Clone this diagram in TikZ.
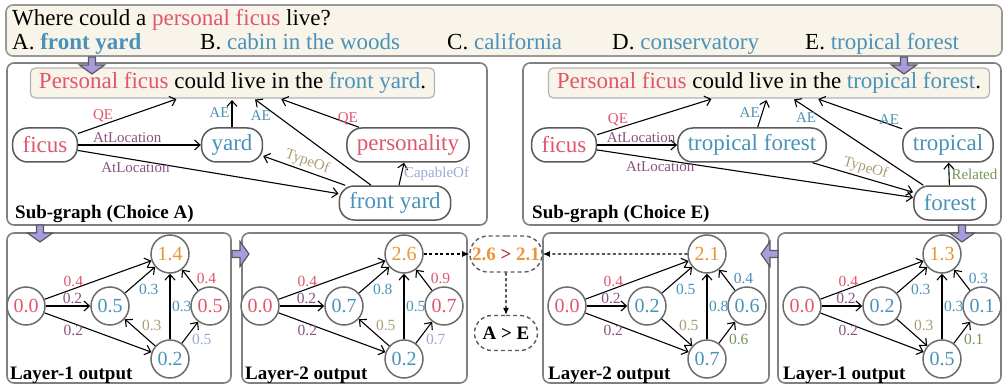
\documentclass[tikz,border=0pt]{standalone}
\usepackage{fontspec}
\setmainfont{Liberation Serif}
\usepackage{tikz}
\usetikzlibrary{arrows.meta, shapes.misc, calc, positioning}
\definecolor{qred}{RGB}{224,86,108}
\definecolor{ablue}{RGB}{74,146,184}
\definecolor{relpurple}{RGB}{138,82,128}
\definecolor{reltan}{RGB}{170,158,118}
\definecolor{rellav}{RGB}{158,168,212}
\definecolor{relgreen}{RGB}{118,150,88}
\definecolor{scoreorange}{RGB}{232,150,56}
\definecolor{cmpred}{RGB}{172,48,52}
\definecolor{boxbeige}{RGB}{248,244,233}
\definecolor{framegray}{RGB}{128,128,128}
\definecolor{nodegray}{RGB}{90,90,90}
\definecolor{flowlav}{RGB}{168,156,222}

\tikzset{
  bigtxt/.style={font=\fontsize{23}{26}\selectfont},
  reltxt/.style={font=\fontsize{15}{17}\selectfont, inner sep=2pt},
  wtxt/.style={font=\fontsize{15.5}{17}\selectfont, inner sep=1.5pt},
  tagtxt/.style={font=\fontsize{19}{21}\selectfont\bfseries, inner sep=0pt, anchor=base west},
  panel/.style={draw=framegray, line width=1.6pt, rounded corners=7pt, fill=white, inner sep=0pt},
  qbox/.style={draw=framegray!80, line width=1.6pt, rounded corners=7pt, fill=boxbeige, inner sep=0pt},
  sentbox/.style={draw=framegray!60, line width=1.2pt, rounded corners=5pt, fill=boxbeige, bigtxt,
    minimum height=30pt, inner xsep=8.5pt, inner ysep=0pt},
  concept/.style={draw=nodegray, line width=1.5pt, rounded corners=15pt, fill=white, bigtxt,
    minimum height=34pt, inner xsep=10pt, inner ysep=0pt},
  score/.style={circle, draw=framegray!85!black, line width=1.5pt, fill=white, minimum size=38pt,
    inner sep=0pt, font=\fontsize{20}{22}\selectfont},
  cmpbox/.style={rounded rectangle, draw=nodegray, line width=1.4pt, dash pattern=on 4pt off 3pt,
    minimum height=36pt, inner ysep=0pt, font=\fontsize{19}{21}\selectfont\bfseries},
  link/.style={-{Straight Barb[length=5.5pt,width=10pt]}, line width=1.1pt},
  cmplink/.style={-{Latex[length=7pt,width=6pt]}, line width=1.1pt, dash pattern=on 3pt off 2.5pt},
  flowarr/.style={fill=flowlav, draw=nodegray, line width=1.2pt, line join=miter},
  optline/.style={bigtxt, anchor=base west, inner sep=0pt}
}

% block arrow between the stages: #1 = base point, #2 = angle
\newcommand{\flowarrow}[2]{%
  \draw[flowarr, shift={#1}, rotate=#2] (0,-3.5) -- (8,-3.5) -- (8,-12.5) -- (17,0)
    -- (8,12.5) -- (8,3.5) -- (0,3.5) -- cycle;}

\begin{document}
\begin{tikzpicture}[x=1pt, y=-1pt]
\useasboundingbox (0,0) rectangle (1004,385);

% question and choices
\node[qbox, minimum width=996pt, minimum height=51pt] (quest) at (504,30.5) {};
\node[optline] (qline) at (12,26) {Where could a \textcolor{qred}{personal ficus} live?};
\node[optline] (optA) at (12,50) {A. \textcolor{ablue}{\textbf{front yard}}};
\node[optline] (optB) at (200,50) {B. \textcolor{ablue}{cabin in the woods}};
\node[optline] (optC) at (447,50) {C. \textcolor{ablue}{california}};
\node[optline] (optD) at (612,50) {D. \textcolor{ablue}{conservatory}};
\node[optline] (optE) at (805,50) {E. \textcolor{ablue}{tropical forest}};

% frames
\node[panel, minimum width=480pt, minimum height=162pt] (subA) at (247,144) {};
\node[panel, minimum width=478pt, minimum height=162pt] (subE) at (762,144) {};
\node[panel, minimum width=224pt, minimum height=150pt] (lay1A) at (119,308) {};
\node[panel, minimum width=225pt, minimum height=150pt] (lay2A) at (354.5,308) {};
\node[panel, minimum width=226pt, minimum height=150pt] (lay2E) at (656,308) {};
\node[panel, minimum width=223pt, minimum height=150pt] (lay1E) at (889.5,308) {};

\node[tagtxt] (tagA) at (15,218) {Sub-graph (Choice A)};
\node[tagtxt] (tagE) at (532,218) {Sub-graph (Choice E)};
\node[tagtxt] (tag1A) at (10,379) {Layer-1 output};
\node[tagtxt] (tag2A) at (245,379) {Layer-2 output};
\node[tagtxt] (tag2E) at (548,379) {Layer-2 output};
\node[tagtxt] (tag1E) at (783,379) {Layer-1 output};

% sub-graph for choice A
\node[sentbox] (sentA) at (232.5,83) {\textcolor{qred}{Personal ficus} could live in the \textcolor{ablue}{front yard}.};
\node[concept, text=qred] (ficusA) at (45,145) {ficus};
\node[concept, text=ablue] (yardA) at (232,145) {yard};
\node[concept, text=qred] (persA) at (408,145) {personality};
\node[concept, text=ablue] (fyA) at (395,203) {front yard};

\draw[link, shorten >=1.5pt] (ficusA) -- node[reltxt, qred, pos=0.25, above] {QE} ($(sentA.south west)+(148,0)$);
\draw[link] (ficusA) -- node[reltxt, relpurple, pos=0.4, above] {AtLocation} (yardA);
\draw[link] (ficusA) -- node[reltxt, relpurple, pos=0.22, below] {AtLocation} (fyA);
\draw[link, shorten >=1.5pt] (yardA) -- node[reltxt, ablue, midway, left] {AE} (yardA |- sentA.south);
\draw[link] (fyA) -- node[reltxt, reltan, midway, above, sloped] {TypeOf} (yardA);
\draw[link, shorten >=1.5pt] (fyA) -- node[reltxt, ablue, pos=0.8, left=4pt] {AE} ($(sentA.south west)+(224,0)$);
\draw[link, shorten >=1.5pt] (persA) -- node[reltxt, qred, pos=0.3, right] {QE} ($(sentA.south west)+(250,0)$);
\draw[link] (fyA) -- node[reltxt, rellav, midway, right] {CapableOf} (persA);

% sub-graph for choice E
\node[sentbox] (sentE) at (769,83) {\textcolor{qred}{Personal ficus} could live in the \textcolor{ablue}{tropical forest}.};
\node[concept, text=qred] (ficusE) at (564,145) {ficus};
\node[concept, text=ablue] (tfE) at (752,145) {tropical forest};
\node[concept, text=ablue] (tropE) at (948,145) {tropical};
\node[concept, text=ablue] (forE) at (950,203) {forest};

\draw[link, shorten >=1.5pt] (ficusE) -- node[reltxt, qred, pos=0.18, above] {QE} ($(sentE.south west)+(165,0)$);
\draw[link] (ficusE) -- node[reltxt, relpurple, pos=0.55, above] {AtLocation} (tfE);
\draw[link] (ficusE) -- node[reltxt, relpurple, pos=0.2, below] {AtLocation} (forE);
\draw[link, shorten >=1.5pt] (tfE) -- node[reltxt, ablue, midway, left] {AE} ($(sentE.south west)+(219,0)$);
\draw[link] (tfE) -- node[reltxt, reltan, midway, above, sloped] {TypeOf} (forE);
\draw[link, shorten >=1.5pt] (forE) -- node[reltxt, ablue, pos=0.78, left=3pt] {AE} ($(sentE.south west)+(245,0)$);
\draw[link, shorten >=1.5pt] (tropE) -- node[reltxt, ablue, pos=0.3, right] {AE} ($(sentE.south west)+(269,0)$);
\draw[link] (forE) -- node[reltxt, relgreen, midway, right] {Related} (tropE);

% layer-1 scores, choice A
\begin{scope}[xshift=26pt]
  \node[score, text=qred] (a1q) at (0,306) {0.0};
  \node[score, text=ablue] (a1m) at (84,306) {0.5};
  \node[score, text=scoreorange] (a1s) at (144,254) {1.4};
  \node[score, text=qred] (a1r) at (184,306) {0.5};
  \node[score, text=ablue] (a1b) at (144,359) {0.2};
  \draw[link] (a1q) -- node[wtxt, qred, pos=0.27, above] {0.4} (a1s);
  \draw[link] (a1q) -- node[wtxt, relpurple, pos=0.6, above] {0.2} (a1m);
  \draw[link] (a1q) -- node[wtxt, relpurple, pos=0.27, below] {0.2} (a1b);
  \draw[link] (a1m) -- node[wtxt, ablue, pos=0.4, below right] {0.3} (a1s);
  \draw[link] (a1b) -- node[wtxt, reltan, midway, above right] {0.3} (a1m);
  \draw[link] (a1b) -- node[wtxt, ablue, midway, right] {0.3} (a1s);
  \draw[link] (a1r) -- node[wtxt, qred, pos=0.2, above right] {0.4} (a1s);
  \draw[link] (a1b) -- node[wtxt, rellav, midway, below right] {0.5} (a1r);
\end{scope}

% layer-2 scores, choice A
\begin{scope}[xshift=260pt]
  \node[score, text=qred] (a2q) at (0,306) {0.0};
  \node[score, text=ablue] (a2m) at (84,306) {0.7};
  \node[score, text=scoreorange] (a2s) at (144,254) {2.6};
  \node[score, text=qred] (a2r) at (184,306) {0.7};
  \node[score, text=ablue] (a2b) at (144,359) {0.2};
  \draw[link] (a2q) -- node[wtxt, qred, pos=0.27, above] {0.4} (a2s);
  \draw[link] (a2q) -- node[wtxt, relpurple, pos=0.6, above] {0.2} (a2m);
  \draw[link] (a2q) -- node[wtxt, relpurple, pos=0.27, below] {0.2} (a2b);
  \draw[link] (a2m) -- node[wtxt, ablue, pos=0.4, below right] {0.8} (a2s);
  \draw[link] (a2b) -- node[wtxt, reltan, midway, above right] {0.5} (a2m);
  \draw[link] (a2b) -- node[wtxt, ablue, midway, right] {0.5} (a2s);
  \draw[link] (a2r) -- node[wtxt, qred, pos=0.2, above right] {0.9} (a2s);
  \draw[link] (a2b) -- node[wtxt, rellav, midway, below right] {0.7} (a2r);
\end{scope}

% layer-2 scores, choice E
\begin{scope}[xshift=567pt]
  \node[score, text=qred] (e2q) at (0,306) {0.0};
  \node[score, text=ablue] (e2m) at (80,306) {0.2};
  \node[score, text=scoreorange] (e2s) at (140,254) {2.1};
  \node[score, text=ablue] (e2r) at (180,306) {0.6};
  \node[score, text=ablue] (e2b) at (140,359) {0.7};
  \draw[link] (e2q) -- node[wtxt, qred, pos=0.27, above] {0.4} (e2s);
  \draw[link] (e2q) -- node[wtxt, relpurple, pos=0.6, above] {0.2} (e2m);
  \draw[link] (e2q) -- node[wtxt, relpurple, pos=0.27, below] {0.2} (e2b);
  \draw[link] (e2m) -- node[wtxt, ablue, pos=0.4, below right] {0.5} (e2s);
  \draw[link] (e2m) -- node[wtxt, reltan, midway, above right] {0.5} (e2b);
  \draw[link] (e2b) -- node[wtxt, ablue, midway, right] {0.8} (e2s);
  \draw[link] (e2r) -- node[wtxt, ablue, pos=0.2, above right] {0.4} (e2s);
  \draw[link] (e2b) -- node[wtxt, relgreen, midway, below right] {0.6} (e2r);
\end{scope}

% layer-1 scores, choice E
\begin{scope}[xshift=802pt]
  \node[score, text=qred] (e1q) at (0,306) {0.0};
  \node[score, text=ablue] (e1m) at (80,306) {0.2};
  \node[score, text=scoreorange] (e1s) at (140,254) {1.3};
  \node[score, text=ablue] (e1r) at (180,306) {0.1};
  \node[score, text=ablue] (e1b) at (140,359) {0.5};
  \draw[link] (e1q) -- node[wtxt, qred, pos=0.27, above] {0.4} (e1s);
  \draw[link] (e1q) -- node[wtxt, relpurple, pos=0.6, above] {0.2} (e1m);
  \draw[link] (e1q) -- node[wtxt, relpurple, pos=0.27, below] {0.2} (e1b);
  \draw[link] (e1m) -- node[wtxt, ablue, pos=0.4, below right] {0.3} (e1s);
  \draw[link] (e1m) -- node[wtxt, reltan, midway, above right] {0.3} (e1b);
  \draw[link] (e1b) -- node[wtxt, ablue, midway, right] {0.3} (e1s);
  \draw[link] (e1r) -- node[wtxt, ablue, pos=0.2, above right] {0.3} (e1s);
  \draw[link] (e1b) -- node[wtxt, relgreen, midway, below right] {0.1} (e1r);
\end{scope}

% final comparison
\node[cmpbox, inner xsep=1pt] (cmp) at (506,254) {\textcolor{scoreorange}{2.6} \textcolor{cmpred}{>} \textcolor{scoreorange}{2.1}};
\node[cmpbox, inner xsep=7pt, minimum height=35pt] (res) at (506,333) {A > E};
\draw[cmplink] (a2s) -- (cmp);
\draw[cmplink] (e2s) -- (cmp);
\draw[cmplink] (cmp) -- (res);

% stage arrows
\flowarrow{(92,57)}{-90}
\flowarrow{(904,57)}{-90}
\flowarrow{(40,225)}{-90}
\flowarrow{(962,225)}{-90}
\flowarrow{(232,254)}{0}
\flowarrow{(778,254)}{180}

\end{tikzpicture}
\end{document}
